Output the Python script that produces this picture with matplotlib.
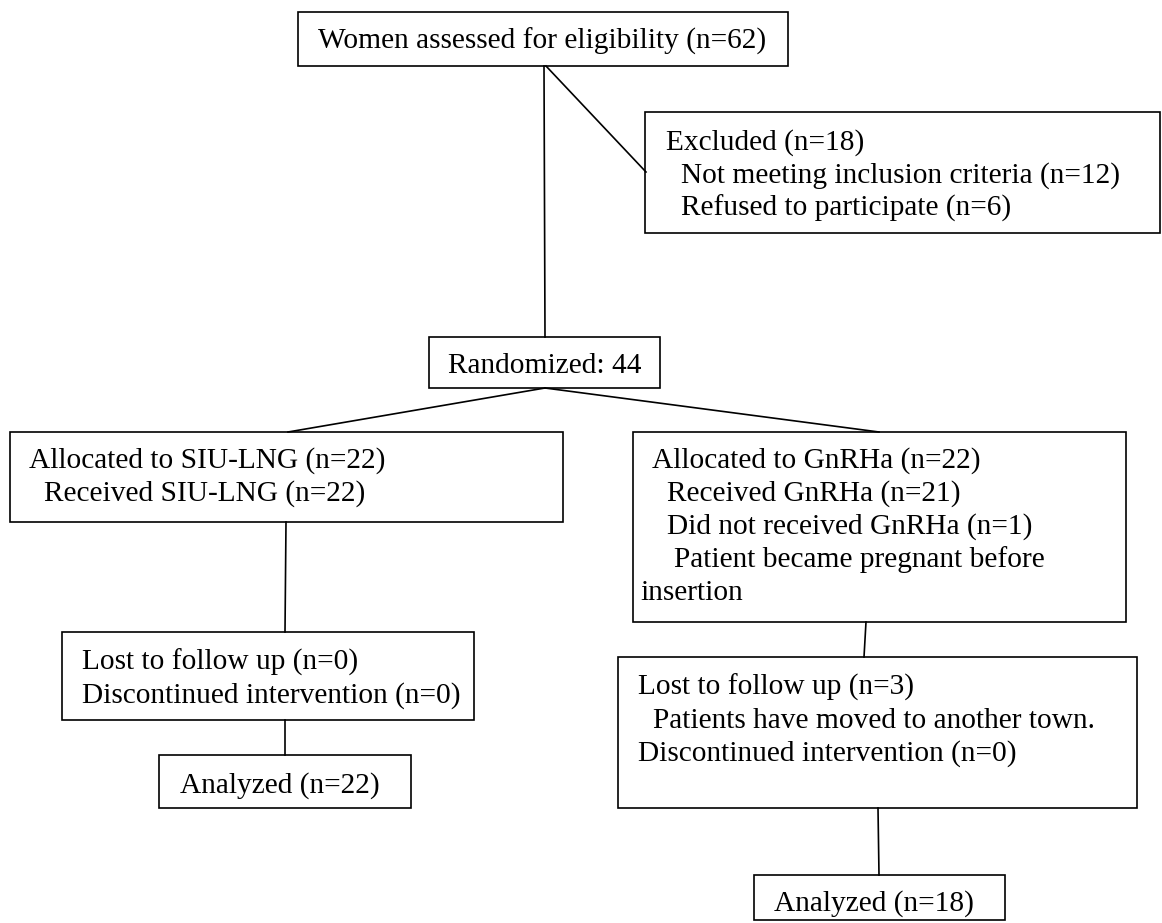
# CONSORT style flow diagram, drawn in pixel coordinates

import matplotlib
matplotlib.use("Agg")
import matplotlib.pyplot as plt
from matplotlib.patches import Rectangle

# TEXT OF EACH BOX (data)

screened = ["Women assessed for eligibility (n=62)"]
excluded = ["Excluded (n=18)",
            " Not meeting inclusion criteria (n=12)",
            " Refused to participate (n=6)"]
randomized = ["Randomized: 44"]
alloc_siu = ["Allocated to SIU-LNG (n=22)",
             " Received SIU-LNG (n=22)"]
alloc_gnrha = ["Allocated to GnRHa (n=22)",
               " Received GnRHa (n=21)",
               " Did not received GnRHa (n=1)",
               "   Patient became pregnant before",
               "insertion"]
follow_siu = ["Lost to follow up (n=0)",
              "Discontinued intervention (n=0)"]
follow_gnrha = ["Lost to follow up (n=3)",
                " Patients have moved to another town.",
                "Discontinued intervention (n=0)"]
analyzed_siu = ["Analyzed (n=22)"]
analyzed_gnrha = ["Analyzed (n=18)"]

# LAYOUT: box (left, top, right, bottom), text x, first line y (pixels)

boxes = [
    (screened,       (298, 12, 788, 66),    318, 39),
    (excluded,       (645, 112, 1160, 233), 666, 140),
    (randomized,     (429, 337, 660, 388),  448, 363),
    (alloc_siu,      (10, 432, 563, 522),   29, 458),
    (alloc_gnrha,    (633, 432, 1126, 622), 652, 458),
    (follow_siu,     (62, 632, 474, 720),   82, 660),
    (follow_gnrha,   (618, 657, 1137, 808), 638, 685),
    (analyzed_siu,   (159, 755, 411, 808),  180, 783),
    (analyzed_gnrha, (754, 875, 1005, 920), 774, 901),
]

# connector lines as (x0, y0, x1, y1)
links = [
    (544, 66, 545, 337),
    (546, 66, 646, 172),
    (545, 388, 288, 432),
    (545, 388, 879, 432),
    (286, 522, 285, 632),
    (866, 622, 864, 657),
    (285, 720, 285, 755),
    (878, 808, 879, 875),
]

line_gap = 33
# x shift for lines by number of leading spaces
lead_shift = {0: 0, 1: 15, 3: 22}
special_shift = {"insertion": -12}

fig = plt.figure(figsize=(11.62, 9.23), dpi=100)
ax = fig.add_axes([0, 0, 1, 1])
ax.set_xlim(0, 1162)
ax.set_ylim(923, 0)
ax.axis("off")

for lines, (l, t, r, b), tx, ty in boxes:
    ax.add_patch(Rectangle((l, t), r - l, b - t, fill=False, edgecolor="black", linewidth=1.2))
    for i, s in enumerate(lines):
        n_lead = len(s) - len(s.lstrip(" "))
        x = tx + lead_shift[n_lead] + special_shift.get(s, 0)
        ax.text(x, ty + i * line_gap + 10, s.lstrip(" "), fontsize=21.2,
                family="Liberation Serif", ha="left", va="baseline")

for x0, y0, x1, y1 in links:
    ax.plot([x0, x1], [y0, y1], color="black", linewidth=1.2)

fig.savefig("out.png", dpi=100)
plt.close(fig)
